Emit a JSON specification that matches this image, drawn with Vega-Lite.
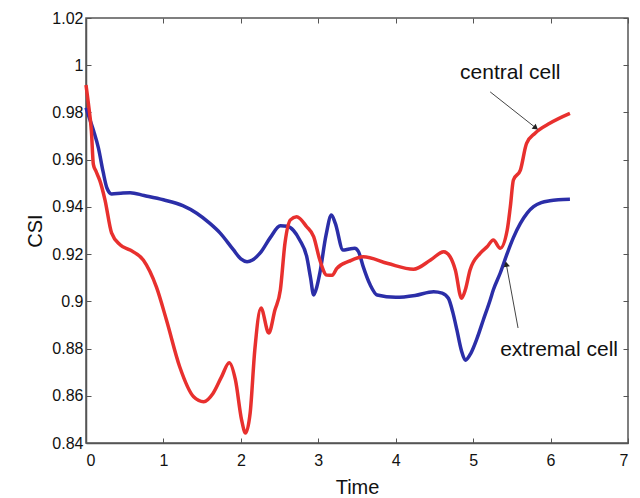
{
  "$schema": "https://vega.github.io/schema/vega-lite/v6.json",
  "width": 542,
  "height": 425,
  "autosize": "none",
  "padding": {"left": 86, "top": 18, "right": 12, "bottom": 55},
  "background": "white",
  "config": {"view": {"stroke": "#555", "strokeWidth": 1.5}, "font": "Liberation Sans"},
  "datasets": {
    "blue": [
      {"t": 0.0, "v": 0.982}, {"t": 0.05, "v": 0.977}, {"t": 0.1, "v": 0.972}, {"t": 0.16, "v": 0.965},
      {"t": 0.22, "v": 0.955}, {"t": 0.27, "v": 0.948}, {"t": 0.33, "v": 0.9455}, {"t": 0.45, "v": 0.9458},
      {"t": 0.57, "v": 0.946}, {"t": 0.75, "v": 0.9448}, {"t": 1.0, "v": 0.943}, {"t": 1.25, "v": 0.9405},
      {"t": 1.43, "v": 0.9373}, {"t": 1.6, "v": 0.933}, {"t": 1.73, "v": 0.929}, {"t": 1.9, "v": 0.922},
      {"t": 2.0, "v": 0.918}, {"t": 2.08, "v": 0.9168}, {"t": 2.15, "v": 0.9175}, {"t": 2.25, "v": 0.9205},
      {"t": 2.38, "v": 0.927}, {"t": 2.51, "v": 0.932}, {"t": 2.6, "v": 0.9318}, {"t": 2.68, "v": 0.93},
      {"t": 2.76, "v": 0.926}, {"t": 2.85, "v": 0.919}, {"t": 2.9, "v": 0.91}, {"t": 2.94, "v": 0.9027},
      {"t": 2.98, "v": 0.906}, {"t": 3.02, "v": 0.912}, {"t": 3.1, "v": 0.928}, {"t": 3.17, "v": 0.9366},
      {"t": 3.22, "v": 0.933}, {"t": 3.32, "v": 0.9217}, {"t": 3.4, "v": 0.9222}, {"t": 3.47, "v": 0.9225},
      {"t": 3.52, "v": 0.921}, {"t": 3.58, "v": 0.9147}, {"t": 3.67, "v": 0.907}, {"t": 3.76, "v": 0.9027},
      {"t": 4.0, "v": 0.9017}, {"t": 4.25, "v": 0.9025}, {"t": 4.49, "v": 0.9041}, {"t": 4.6, "v": 0.9035},
      {"t": 4.68, "v": 0.9013}, {"t": 4.74, "v": 0.895}, {"t": 4.79, "v": 0.8879}, {"t": 4.85, "v": 0.879},
      {"t": 4.9, "v": 0.8751}, {"t": 4.97, "v": 0.878}, {"t": 5.05, "v": 0.8843}, {"t": 5.13, "v": 0.892},
      {"t": 5.22, "v": 0.9006}, {"t": 5.26, "v": 0.9048}, {"t": 5.35, "v": 0.912}, {"t": 5.44, "v": 0.9203},
      {"t": 5.52, "v": 0.927}, {"t": 5.61, "v": 0.933}, {"t": 5.7, "v": 0.9375}, {"t": 5.78, "v": 0.9401},
      {"t": 5.88, "v": 0.9418}, {"t": 5.99, "v": 0.9426}, {"t": 6.1, "v": 0.943}, {"t": 6.25, "v": 0.9432}
    ],
    "red": [
      {"t": 0.0, "v": 0.9916}, {"t": 0.03, "v": 0.984}, {"t": 0.07, "v": 0.972}, {"t": 0.095, "v": 0.958},
      {"t": 0.13, "v": 0.955}, {"t": 0.18, "v": 0.951}, {"t": 0.245, "v": 0.943}, {"t": 0.33, "v": 0.929},
      {"t": 0.44, "v": 0.924}, {"t": 0.57, "v": 0.9217}, {"t": 0.74, "v": 0.9175}, {"t": 0.91, "v": 0.906},
      {"t": 1.04, "v": 0.892}, {"t": 1.21, "v": 0.8723}, {"t": 1.39, "v": 0.8596}, {"t": 1.52, "v": 0.8575},
      {"t": 1.64, "v": 0.861}, {"t": 1.75, "v": 0.868}, {"t": 1.85, "v": 0.874}, {"t": 1.93, "v": 0.8667},
      {"t": 2.01, "v": 0.8497}, {"t": 2.06, "v": 0.8442}, {"t": 2.12, "v": 0.8527}, {"t": 2.18, "v": 0.8794},
      {"t": 2.26, "v": 0.8972}, {"t": 2.36, "v": 0.8866}, {"t": 2.44, "v": 0.8963}, {"t": 2.51, "v": 0.9048},
      {"t": 2.57, "v": 0.9247}, {"t": 2.64, "v": 0.9345}, {"t": 2.72, "v": 0.9358}, {"t": 2.85, "v": 0.9316},
      {"t": 2.94, "v": 0.9274}, {"t": 3.02, "v": 0.9175}, {"t": 3.11, "v": 0.9111}, {"t": 3.18, "v": 0.911},
      {"t": 3.24, "v": 0.914}, {"t": 3.4, "v": 0.917}, {"t": 3.58, "v": 0.9189}, {"t": 3.9, "v": 0.916},
      {"t": 4.23, "v": 0.9136}, {"t": 4.45, "v": 0.9175}, {"t": 4.62, "v": 0.921}, {"t": 4.7, "v": 0.919},
      {"t": 4.77, "v": 0.9133}, {"t": 4.85, "v": 0.9013}, {"t": 4.9, "v": 0.905}, {"t": 4.96, "v": 0.9133},
      {"t": 5.09, "v": 0.9203}, {"t": 5.18, "v": 0.9231}, {"t": 5.26, "v": 0.926}, {"t": 5.35, "v": 0.9225},
      {"t": 5.44, "v": 0.9302}, {"t": 5.48, "v": 0.94}, {"t": 5.52, "v": 0.9514}, {"t": 5.61, "v": 0.9556},
      {"t": 5.69, "v": 0.9669}, {"t": 5.8, "v": 0.9712}, {"t": 5.99, "v": 0.9754}, {"t": 6.25, "v": 0.9796}
    ],
    "labels": [
      {"label": "central cell", "t": 5.48, "v": 0.9967},
      {"label": "extremal cell", "t": 6.11, "v": 0.8794}
    ],
    "arrows": [
      {"name": "central", "t": 5.22, "v": 0.9887, "t2": 5.8, "v2": 0.9737},
      {"name": "extremal", "t": 5.58, "v": 0.8887, "t2": 5.43, "v2": 0.9154}
    ]
  },
  "layer": [
    {
      "data": {"name": "blue"},
      "mark": {"type": "line", "color": "#2b2ea8", "strokeWidth": 3.5, "interpolate": "monotone"},
      "encoding": {
        "x": {"field": "t", "type": "quantitative", "scale": {"domain": [0, 7], "nice": false},
          "axis": {"orient": "bottom", "values": [0, 1, 2, 3, 4, 5, 6, 7], "grid": false, "tickSize": -5,
            "tickColor": "#555", "domainColor": "#555", "domainWidth": 1.5, "labelFontSize": 16,
            "labelColor": "#111", "labelPadding": 14, "title": "Time", "titleFontSize": 20,
            "titleFontWeight": "normal", "titleColor": "#111", "titlePadding": 9}},
        "y": {"field": "v", "type": "quantitative", "scale": {"domain": [0.84, 1.02], "nice": false, "zero": false},
          "axis": {"orient": "left", "values": [0.84, 0.86, 0.88, 0.9, 0.92, 0.94, 0.96, 0.98, 1, 1.02], "format": "~g",
            "grid": false, "tickSize": -5, "tickColor": "#555", "domainColor": "#555", "domainWidth": 1.5,
            "labelFontSize": 16, "labelColor": "#111", "labelPadding": 8, "title": "CSI", "titleFontSize": 20,
            "titleFontWeight": "normal", "titleColor": "#111", "titlePadding": 6}}
      }
    },
    {
      "data": {"name": "red"},
      "mark": {"type": "line", "color": "#e8302e", "strokeWidth": 3.5, "interpolate": "monotone"},
      "encoding": {
        "x": {"field": "t", "type": "quantitative",
          "axis": {"orient": "top", "values": [0, 1, 2, 3, 4, 5, 6, 7], "grid": false, "labels": false, "domain": false,
            "tickSize": -5, "tickColor": "#555", "title": null}},
        "y": {"field": "v", "type": "quantitative",
          "axis": {"orient": "right", "values": [0.84, 0.86, 0.88, 0.9, 0.92, 0.94, 0.96, 0.98, 1, 1.02], "grid": false,
            "labels": false, "domain": false, "tickSize": -5, "tickColor": "#555", "title": null}}
      }
    },
    {
      "data": {"name": "arrows"},
      "mark": {"type": "rule", "color": "#444", "strokeWidth": 1},
      "encoding": {
        "x": {"field": "t", "type": "quantitative", "axis": null},
        "y": {"field": "v", "type": "quantitative", "axis": null},
        "x2": {"field": "t2"},
        "y2": {"field": "v2"}
      }
    },
    {
      "data": {"name": "arrows"},
      "transform": [{"filter": "datum.name === 'central'"}],
      "mark": {"type": "point", "shape": "triangle", "filled": true, "color": "#222", "size": 40, "angle": 129, "opacity": 1},
      "encoding": {
        "x": {"field": "t2", "type": "quantitative", "axis": null},
        "y": {"field": "v2", "type": "quantitative", "axis": null}
      }
    },
    {
      "data": {"name": "arrows"},
      "transform": [{"filter": "datum.name === 'extremal'"}],
      "mark": {"type": "point", "shape": "triangle", "filled": true, "color": "#222", "size": 40, "angle": 349, "opacity": 1},
      "encoding": {
        "x": {"field": "t2", "type": "quantitative", "axis": null},
        "y": {"field": "v2", "type": "quantitative", "axis": null}
      }
    },
    {
      "data": {"name": "labels"},
      "mark": {"type": "text", "fontSize": 21, "color": "#111", "align": "center", "baseline": "middle"},
      "encoding": {
        "x": {"field": "t", "type": "quantitative", "axis": null},
        "y": {"field": "v", "type": "quantitative", "axis": null},
        "text": {"field": "label"}
      }
    }
  ],
  "resolve": {"axis": {"x": "independent", "y": "independent"}}
}
